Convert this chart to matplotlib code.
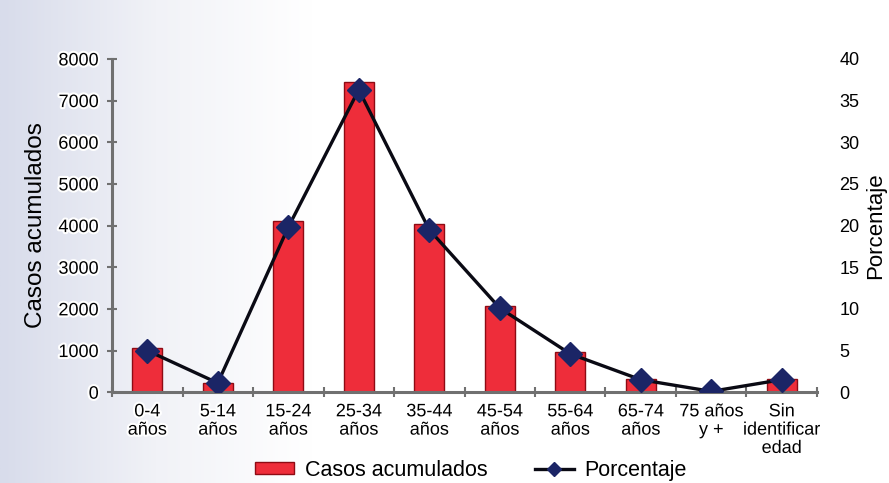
import numpy as np
import matplotlib.pyplot as plt
import matplotlib.patheffects as pe
from matplotlib.lines import Line2D
from matplotlib.patches import Patch
from matplotlib.colors import LinearSegmentedColormap

plt.rcParams['font.family'] = ['Liberation Sans', 'DejaVu Sans']

# data
grupos = ['0-4\naños', '5-14\naños', '15-24\naños', '25-34\naños', '35-44\naños',
          '45-54\naños', '55-64\naños', '65-74\naños', '75 años\ny +',
          'Sin\nidentificar\nedad']
casos = [1050, 230, 4100, 7450, 4030, 2080, 960, 310, 30, 310]
porcentaje = [5.0, 1.1, 19.8, 36.3, 19.5, 10.1, 4.6, 1.5, 0.1, 1.5]

bar_color = '#EE2D3A'
edge_color = '#8E0B14'
line_color = '#0A0A14'
marker_color = '#1B2566'
axis_color = '#707070'

fig = plt.figure(figsize=(8.89, 4.83), dpi=100)

# background gradient, lavender at left fading to white
bg = fig.add_axes([0, 0, 1, 1], zorder=-10)
grad = np.linspace(0, 1, 400)
grad = np.clip(grad / 0.35, 0, 1)[None, :]
cmap = LinearSegmentedColormap.from_list('bg', ['#D8DCEB', '#F1F2F7', '#FFFFFF'])
bg.imshow(np.repeat(grad, 10, axis=0), aspect='auto', cmap=cmap,
          extent=[0, 1, 0, 1])
bg.axis('off')

ax = fig.add_axes([0.126, 0.188, 0.793, 0.69])
ax.patch.set_alpha(0)
x = np.arange(len(grupos))
ax.bar(x, casos, width=0.42, color=bar_color, edgecolor=edge_color,
       linewidth=1.0, zorder=2)
ax.set_xlim(-0.5, len(grupos) - 0.5)
ax.set_ylim(0, 8000)
ax.set_yticks(range(0, 8001, 1000))
ax.set_xticks(x)
ax.set_xticks(np.arange(-0.5, len(grupos), 1), minor=True)
ax.set_xticklabels(grupos, fontsize=13, linespacing=1.1)
ax.tick_params(axis='x', which='major', length=0, pad=8)
ax.tick_params(axis='x', which='minor', length=7, width=1.5,
               direction='inout', color=axis_color)
ax.tick_params(axis='y', length=7, width=1.5, direction='inout',
               color=axis_color, labelsize=13, pad=6)
for s in ['top', 'right']:
    ax.spines[s].set_visible(False)
for s in ['left', 'bottom']:
    ax.spines[s].set_color(axis_color)
    ax.spines[s].set_linewidth(2.2)
ax.set_ylabel('Casos acumulados', fontsize=17.5, labelpad=8)

halo = [pe.withStroke(linewidth=3, foreground='white')]
for lab in ax.get_xticklabels() + ax.get_yticklabels():
    lab.set_path_effects(halo)

ax2 = ax.twinx()
ax2.plot(x, porcentaje, color=line_color, linewidth=2.4, marker='D',
         markersize=12, markerfacecolor=marker_color,
         markeredgecolor=marker_color, zorder=3)
ax2.set_ylim(0, 40)
ax2.set_yticks(range(0, 41, 5))
ax2.tick_params(axis='y', length=0, labelsize=13, pad=16)
for s in ['top', 'right', 'left', 'bottom']:
    ax2.spines[s].set_visible(False)
ax2.set_ylabel('Porcentaje', fontsize=16, labelpad=4)

handles = [Patch(facecolor=bar_color, edgecolor=edge_color),
           Line2D([], [], color=line_color, linewidth=2.4, marker='D',
                  markersize=7, markerfacecolor=marker_color,
                  markeredgecolor=marker_color)]
fig.legend(handles, ['Casos acumulados', 'Porcentaje'], loc='lower center',
           bbox_to_anchor=(0.53, -0.035), ncol=2, frameon=False, fontsize=15.5,
           handlelength=1.8, handleheight=0.45, columnspacing=2.2,
           handletextpad=0.5)

fig.savefig('out.png', dpi=100)
